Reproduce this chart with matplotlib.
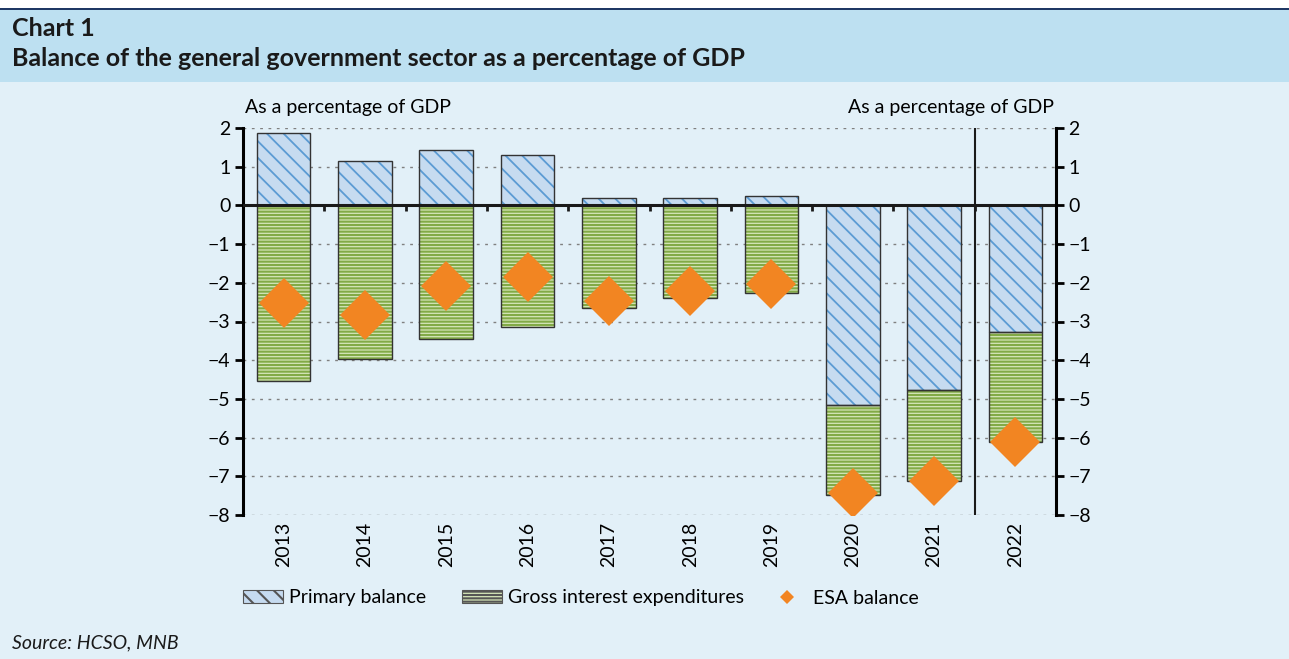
import matplotlib
matplotlib.use("Agg")
import matplotlib.pyplot as plt
from matplotlib.patches import Patch, Rectangle
from matplotlib.lines import Line2D
import numpy as np

years = ["2013", "2014", "2015", "2016", "2017", "2018", "2019", "2020", "2021", "2022"]
primary_balance = [1.86, 1.14, 1.42, 1.29, 0.18, 0.18, 0.23, -5.17, -4.78, -3.28]
interest_exp = [-4.55, -3.98, -3.46, -3.13, -2.64, -2.38, -2.27, -2.32, -2.33, -2.84]
esa_balance = [-2.53, -2.84, -2.07, -1.86, -2.48, -2.20, -2.04, -7.44, -7.13, -6.12]
y_ticks = [2, 1, 0, -1, -2, -3, -4, -5, -6, -7, -8]

plt.rcParams['font.family'] = ['Lato', 'DejaVu Sans']

BG = '#E2F0F8'
BAND = '#BDE0F1'
BLUE_FACE = '#C6DBF0'
BLUE_HATCH = '#5B9BD3'
GREEN_FACE = '#D4E5B8'
GREEN_HATCH = '#82AA46'
ORANGE = '#F28522'
TXT = '#1a1a1a'
BLUE_PAT = '\\\\'
GREEN_PAT = '-----'
BLUE_LW = 1.3
GREEN_LW = 1.5

fig = plt.figure(figsize=(12.89, 6.59), dpi=100, facecolor=BG)
# header band
fig.patches.append(Rectangle((0, 1 - 82/659), 1, (82-10)/659, transform=fig.transFigure,
                             facecolor=BAND, edgecolor='none', zorder=0))
fig.patches.append(Rectangle((0, 1 - 10/659), 1, 2.5/659, transform=fig.transFigure,
                             facecolor='#1F3864', edgecolor='none', zorder=0))
fig.patches.append(Rectangle((0, 1 - 8/659), 1, 8/659, transform=fig.transFigure,
                             facecolor='white', edgecolor='none', zorder=0))
fig.text(12/1289, 1 - 28/659, "Chart 1", fontsize=18, fontweight='bold', va='center', ha='left', color=TXT)
fig.text(12/1289, 1 - 58/659, "Balance of the general government sector as a percentage of GDP",
         fontsize=18, fontweight='bold', va='center', ha='left', color=TXT)
fig.text(12/1289, 1 - 643/659, "Source: HCSO, MNB", fontsize=14, style='italic', va='center', ha='left', color=TXT)

ax = fig.add_axes([243/1289, 1 - 515/659, (1056-243)/1289, (515-128)/659])
ax.set_facecolor(BG)
x = np.arange(len(years))
w = 0.66

pb = np.array(primary_balance)
ie = np.array(interest_exp)
bottom_ie = np.where(pb < 0, pb, 0)

plt.rcParams['hatch.linewidth'] = BLUE_LW
ax.bar(x, pb, width=w, facecolor=BLUE_FACE, edgecolor=BLUE_HATCH, hatch=BLUE_PAT, linewidth=0, zorder=2)
plt.rcParams['hatch.linewidth'] = GREEN_LW
ax.bar(x, ie, width=w, bottom=bottom_ie, facecolor=GREEN_FACE, edgecolor=GREEN_HATCH, hatch=GREEN_PAT, linewidth=0, zorder=2)
ax.bar(x, pb, width=w, facecolor='none', edgecolor='#333333', linewidth=1.0, zorder=3)
ax.bar(x, ie, width=w, bottom=bottom_ie, facecolor='none', edgecolor='#333333', linewidth=1.0, zorder=3)
ax.plot(x, esa_balance, linestyle='none', marker='D', markersize=25, color=ORANGE, markeredgewidth=0, zorder=4)

ax.set_xlim(-0.5, len(years) - 0.5)
ax.set_ylim(-8, 2)
ax.set_yticks(y_ticks)
ax.set_yticklabels([str(v).replace('-', '\u2212') for v in y_ticks])
for v in y_ticks:
    ax.axhline(v, color='#808080', linestyle=(0, (2, 4)), linewidth=1.0, zorder=1)
ax.axhline(0, color=TXT, linewidth=2.2, zorder=3.5)
# boundary ticks on zero line
bnd = x[:-1] + 0.5
ax.vlines(bnd, 0, -0.15, color=TXT, linewidth=2, zorder=3.5)
ax.axvline(8.5, color=TXT, linewidth=1.5, zorder=3.5)

ax.set_xticks(x)
ax.set_xticklabels(years, rotation=90, fontsize=14)
ax.tick_params(axis='x', length=0, pad=5)
ax.tick_params(axis='y', direction='out', length=6, width=2, labelsize=14, pad=3)
for s in ['top', 'bottom', 'right']:
    ax.spines[s].set_visible(False)
ax.spines['left'].set_linewidth(2.2)

ax2 = ax.twinx()
ax2.set_ylim(-8, 2)
ax2.set_yticks(y_ticks)
ax2.set_yticklabels([str(v).replace('-', '\u2212') for v in y_ticks])
ax2.tick_params(axis='y', direction='out', length=6, width=2, labelsize=14, pad=3)
for s in ['top', 'bottom', 'left']:
    ax2.spines[s].set_visible(False)
ax2.spines['right'].set_linewidth(2.2)

ax.text(0.002, 1.052, "As a percentage of GDP", transform=ax.transAxes, ha='left', va='center', fontsize=14)
ax.text(0.998, 1.052, "As a percentage of GDP", transform=ax.transAxes, ha='right', va='center', fontsize=14)

plt.rcParams['hatch.linewidth'] = BLUE_LW
h1 = Patch(facecolor=BLUE_FACE, edgecolor=BLUE_HATCH, hatch=BLUE_PAT, linewidth=0)
plt.rcParams['hatch.linewidth'] = GREEN_LW
h2 = Patch(facecolor=GREEN_FACE, edgecolor=GREEN_HATCH, hatch=GREEN_PAT, linewidth=0)
h3 = Line2D([], [], linestyle='none', marker='D', markersize=7.5, color=ORANGE, markeredgewidth=0)

legend_items = [(h1, "Primary balance", 243), (h2, "Gross interest expenditures", 462), (h3, "ESA balance", 767)]
for h, lab, xp in legend_items:
    lg = fig.legend([h], [lab], loc='center left', bbox_to_anchor=(xp/1289, 1 - 598/659),
                    frameon=False, fontsize=14, handlelength=2.05, handleheight=0.65,
                    handletextpad=0.3, borderpad=0, borderaxespad=0)
    for p in lg.get_patches():
        p.set_linewidth(0.8)
        p.set_edgecolor('#555555')

fig.savefig("out.png", dpi=100, facecolor=BG)
